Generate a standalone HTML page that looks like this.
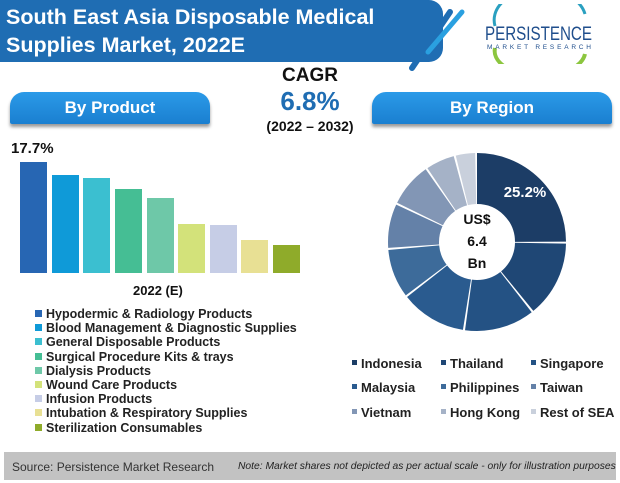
<!DOCTYPE html>
<html><head><meta charset="utf-8"><style>
body{margin:0;width:620px;height:483px;background:#fff;position:relative;overflow:hidden;font-family:"Liberation Sans",sans-serif}
.a{position:absolute}
.pill{position:absolute;background:linear-gradient(#2b9ae8,#1a7fd0);color:#fff;font-weight:bold;font-size:17px;text-align:center;line-height:32px;border-radius:14px 14px 2px 2px;box-shadow:0 3px 3px #999}
.lg{font-size:12.5px;font-weight:bold;color:#222;line-height:14.2px}
.lg span{display:inline-block;width:7px;height:7px;margin-right:4px;vertical-align:1px}
.rg{position:absolute;font-size:13px;font-weight:bold;color:#222}
.rg span{display:inline-block;width:5px;height:5px;margin-right:4px;vertical-align:3px}
</style></head><body>
<div class="a" style="left:0;top:0;width:443px;height:62px;background:#1f6db3;border-radius:0 14px 14px 0"></div>
<div class="a" style="left:6px;top:3px;color:#fff;font-weight:bold;font-size:21.5px;line-height:28px">South East Asia Disposable Medical<br>Supplies Market, 2022E</div>
<svg class="a" style="left:400px;top:0" width="80" height="75"><line x1="12" y1="68" x2="50" y2="12" stroke="#1f6db3" stroke-width="6" stroke-linecap="round"/><line x1="28" y1="52" x2="62" y2="12" stroke="#2aa0e0" stroke-width="5" stroke-linecap="round"/></svg>
<svg class="a" style="left:475px;top:4px" width="140" height="60"><path d="M20 22 A38 26 0 0 1 110 10" stroke="#2aa0c0" stroke-width="3" fill="none"/><path d="M20 44 A40 22 0 0 0 110 50" stroke="#8cc63f" stroke-width="4" fill="none"/>
<text x="10" y="36" font-size="19" fill="#1f4e8c" textLength="107" lengthAdjust="spacingAndGlyphs">PERSISTENCE</text><text x="12" y="45" font-size="6.5" fill="#1f4e8c" textLength="104">MARKET RESEARCH</text></svg>
<div class="a" style="left:0;top:65px;width:620px;text-align:center;font-weight:bold;font-size:19px;color:#111">CAGR</div>
<div class="a" style="left:0;top:86px;width:620px;text-align:center;font-weight:bold;font-size:26px;color:#1f6db3">6.8%</div>
<div class="a" style="left:0;top:118px;width:620px;text-align:center;font-weight:bold;font-size:14px;color:#111">(2022 – 2032)</div>
<div class="pill" style="left:10px;top:92px;width:200px">By Product</div>
<div class="pill" style="left:372px;top:92px;width:240px">By Region</div>
<div class="a" style="left:11px;top:140px;font-weight:bold;font-size:15px;color:#111">17.7%</div>
<svg class="a" style="left:0;top:0" width="320" height="300">
<rect x="20" y="162" width="27" height="111" fill="#2766b3"/>
<rect x="52" y="175" width="27" height="98" fill="#0f9ad8"/>
<rect x="83" y="178" width="27" height="95" fill="#3bbfd0"/>
<rect x="115" y="189" width="27" height="84" fill="#45be94"/>
<rect x="147" y="198" width="27" height="75" fill="#6ec8a8"/>
<rect x="178" y="224" width="27" height="49" fill="#d3e27a"/>
<rect x="210" y="225" width="27" height="48" fill="#c6cde6"/>
<rect x="241" y="240" width="27" height="33" fill="#e8e094"/>
<rect x="273" y="245" width="27" height="28" fill="#8fab2a"/>
</svg>
<div class="a" style="left:133px;top:283px;font-weight:bold;font-size:13px;color:#111">2022 (E)</div>
<div class="a lg" style="left:35px;top:307px">
<div><span style="background:#2766b3"></span>Hypodermic &amp; Radiology Products</div>
<div><span style="background:#0f9ad8"></span>Blood Management &amp; Diagnostic Supplies</div>
<div><span style="background:#3bbfd0"></span>General Disposable Products</div>
<div><span style="background:#45be94"></span>Surgical Procedure Kits &amp; trays</div>
<div><span style="background:#6ec8a8"></span>Dialysis Products</div>
<div><span style="background:#d3e27a"></span>Wound Care Products</div>
<div><span style="background:#c6cde6"></span>Infusion Products</div>
<div><span style="background:#e8e094"></span>Intubation &amp; Respiratory Supplies</div>
<div><span style="background:#8fab2a"></span>Sterilization Consumables</div>
</div>
<svg class="a" style="left:0;top:0" width="620" height="483">
<g transform="rotate(-90 477 242)" fill="none" stroke-width="51">
<circle cx="477" cy="242" r="63.5" stroke="#1c3d66" stroke-dasharray="99.4 400" stroke-dashoffset="0"/>
<circle cx="477" cy="242" r="63.5" stroke="#1f4775" stroke-dasharray="55 400" stroke-dashoffset="-100.9"/>
<circle cx="477" cy="242" r="63.5" stroke="#245284" stroke-dasharray="50.6 400" stroke-dashoffset="-157.4"/>
<circle cx="477" cy="242" r="63.5" stroke="#2a5b8f" stroke-dasharray="47.3 400" stroke-dashoffset="-209.5"/>
<circle cx="477" cy="242" r="63.5" stroke="#3d6b9a" stroke-dasharray="35.1 400" stroke-dashoffset="-258.3"/>
<circle cx="477" cy="242" r="63.5" stroke="#6481a8" stroke-dasharray="31.7 400" stroke-dashoffset="-294.9"/>
<circle cx="477" cy="242" r="63.5" stroke="#8296b5" stroke-dasharray="31.7 400" stroke-dashoffset="-328.1"/>
<circle cx="477" cy="242" r="63.5" stroke="#a5b2c7" stroke-dasharray="20.7 400" stroke-dashoffset="-361.3"/>
<circle cx="477" cy="242" r="63.5" stroke="#c9d0dc" stroke-dasharray="14 400" stroke-dashoffset="-383.5"/>
</g>
<text x="525" y="197" fill="#fff" font-size="15" font-weight="bold" text-anchor="middle">25.2%</text>
<g font-size="14" font-weight="bold" fill="#111" text-anchor="middle"><text x="477" y="224">US$</text><text x="477" y="246">6.4</text><text x="477" y="268">Bn</text></g>
</svg>
<div class="rg" style="left:352px;top:356px"><span style="background:#1c3d66"></span>Indonesia</div>
<div class="rg" style="left:441px;top:356px"><span style="background:#1f4775"></span>Thailand</div>
<div class="rg" style="left:531px;top:356px"><span style="background:#245284"></span>Singapore</div>
<div class="rg" style="left:352px;top:380px"><span style="background:#2a5b8f"></span>Malaysia</div>
<div class="rg" style="left:441px;top:380px"><span style="background:#3d6b9a"></span>Philippines</div>
<div class="rg" style="left:531px;top:380px"><span style="background:#6481a8"></span>Taiwan</div>
<div class="rg" style="left:352px;top:405px"><span style="background:#8296b5"></span>Vietnam</div>
<div class="rg" style="left:441px;top:405px"><span style="background:#a5b2c7"></span>Hong Kong</div>
<div class="rg" style="left:531px;top:405px"><span style="background:#c9d0dc"></span>Rest of SEA</div>
<div class="a" style="left:4px;top:452px;width:612px;height:28px;background:#c2c2c2"></div>
<div class="a" style="left:12px;top:460px;font-size:12px;color:#333">Source: Persistence Market Research</div>
<div class="a" style="left:238px;top:461px;font-size:10.3px;font-style:italic;color:#222">Note: Market shares not depicted as per actual scale - only for illustration purposes</div>
</body></html>
